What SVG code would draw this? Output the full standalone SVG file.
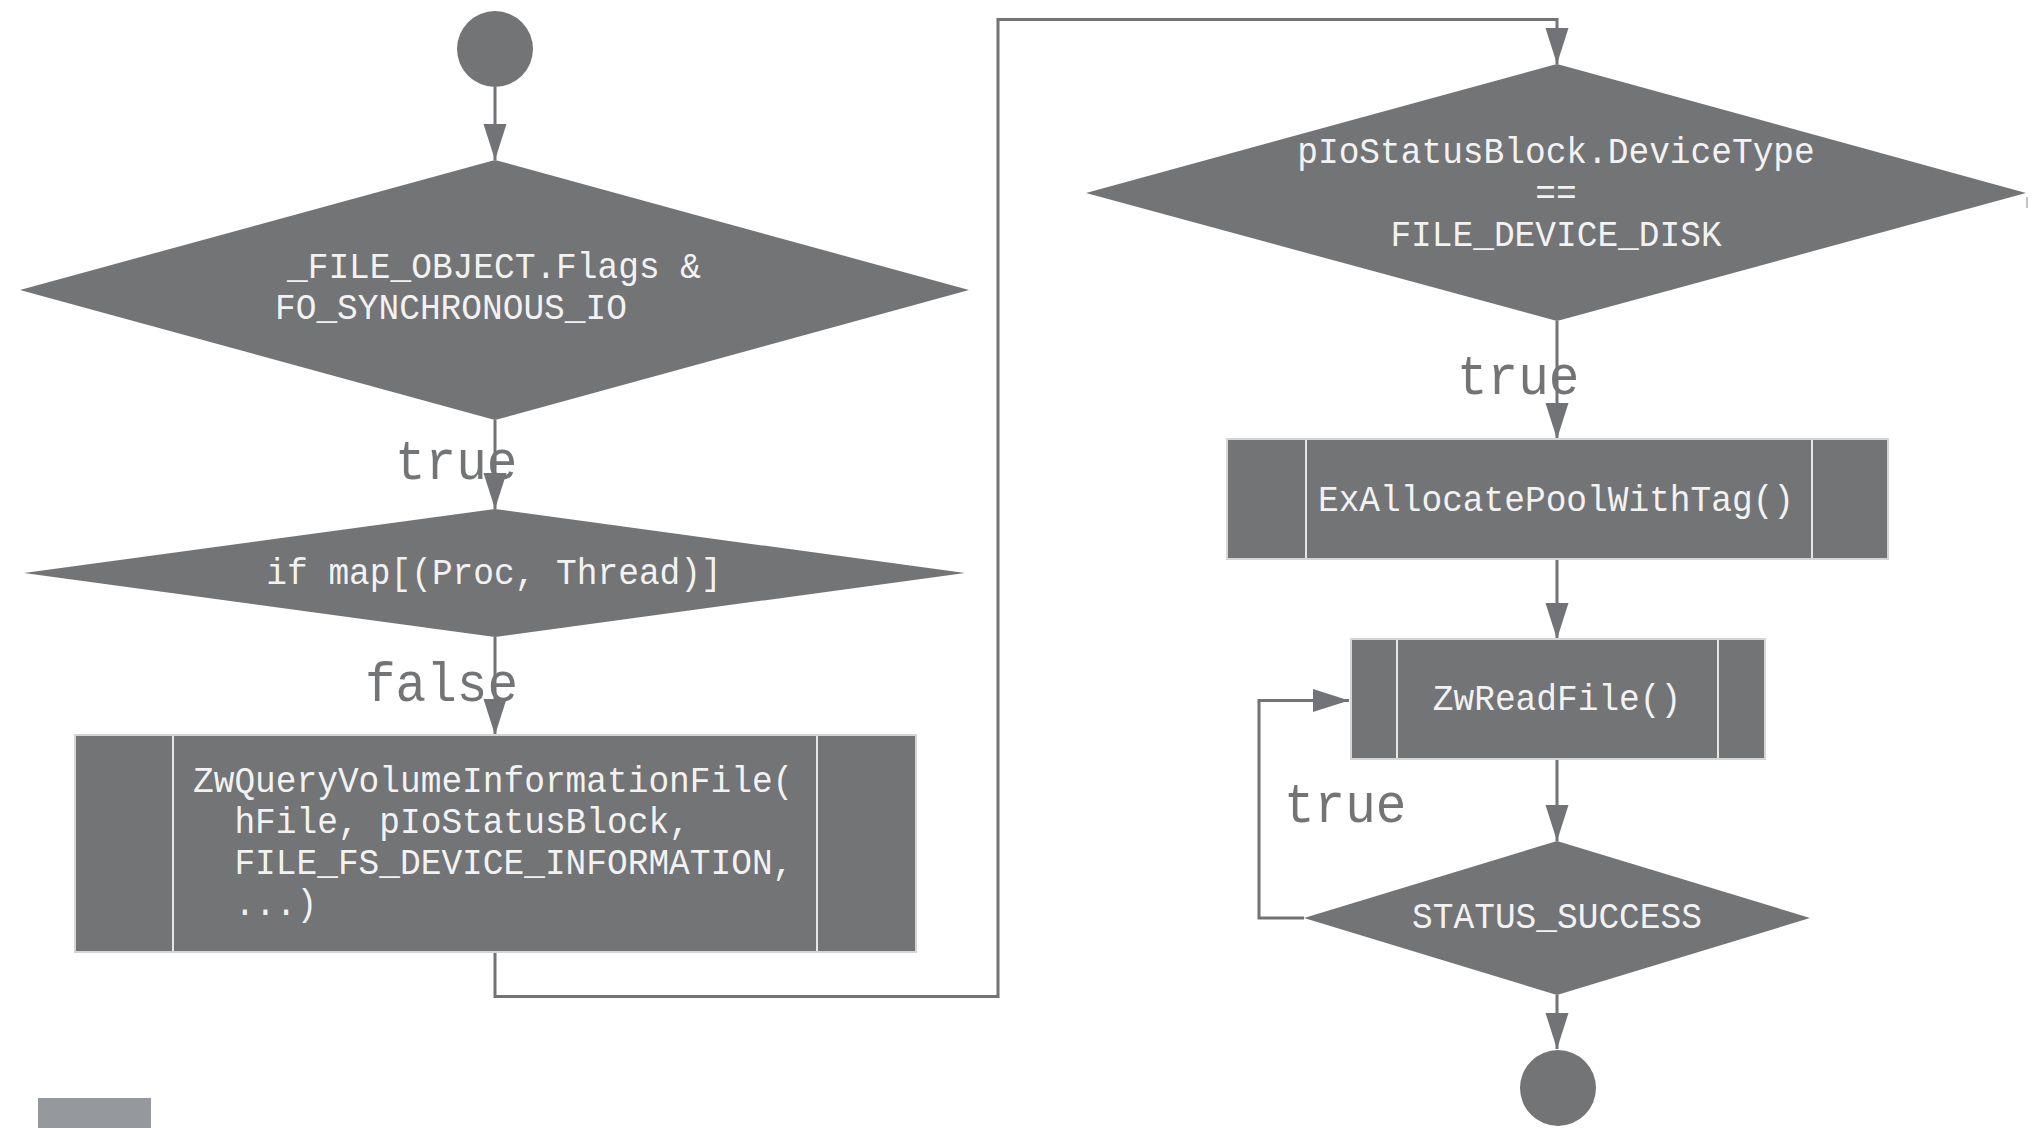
<svg xmlns="http://www.w3.org/2000/svg" width="2037" height="1128" viewBox="0 0 2037 1128">
<defs>
<style>
.node{fill:#737476;}
.box{fill:#737476;stroke:#d4d5d6;stroke-width:2;}
.div{stroke:#e6e6e6;stroke-width:2;}
.nt{font-family:"Liberation Mono","DejaVu Sans Mono",monospace;font-size:37.5px;fill:#f2f2f2;}
.c{text-anchor:middle;}
.lbl{font-family:"Liberation Mono","DejaVu Sans Mono",monospace;font-size:56px;fill:#737476;}
.conn{fill:none;stroke:#727376;stroke-width:3;}
</style>
<marker id="ah" markerUnits="userSpaceOnUse" markerWidth="38" markerHeight="24" refX="36" refY="11.5" orient="auto">
<path d="M0,0 L36,11.5 L0,23 z" fill="#727376"/>
</marker>
</defs>
<rect width="2037" height="1128" fill="#ffffff"/>

<g id="connectors">
<line class="conn" x1="495" y1="87" x2="495" y2="160" marker-end="url(#ah)"/>
<line class="conn" x1="495" y1="420" x2="495" y2="509" marker-end="url(#ah)"/>
<line class="conn" x1="495" y1="637" x2="495" y2="735" marker-end="url(#ah)"/>
<polyline class="conn" points="495,952 495,996.5 998,996.5 998,19.5 1557,19.5 1557,64" marker-end="url(#ah)"/>
<line class="conn" x1="1557" y1="321" x2="1557" y2="439" marker-end="url(#ah)"/>
<line class="conn" x1="1557" y1="559" x2="1557" y2="639" marker-end="url(#ah)"/>
<line class="conn" x1="1557" y1="759" x2="1557" y2="841" marker-end="url(#ah)"/>
<polyline class="conn" points="1304,918 1259,918 1259,700.5 1349,700.5" marker-end="url(#ah)"/>
<line class="conn" x1="1557" y1="995" x2="1557" y2="1049" marker-end="url(#ah)"/>
<text class="lbl" x="395" y="479" textLength="122.4" lengthAdjust="spacingAndGlyphs">true</text>
<text class="lbl" x="365" y="701" textLength="153" lengthAdjust="spacingAndGlyphs">false</text>
<text class="lbl" x="1457" y="394" textLength="122.4" lengthAdjust="spacingAndGlyphs">true</text>
<text class="lbl" x="1284" y="822" textLength="122.4" lengthAdjust="spacingAndGlyphs">true</text>
</g>

<g id="start">
<circle class="node" cx="495" cy="49" r="38"/>
</g>

<g id="cond-flags">
<polygon class="node" points="495,160 969,290 495,420 20,290"/>
<text class="nt" x="287" y="278" textLength="414" lengthAdjust="spacingAndGlyphs">_FILE_OBJECT.Flags &amp;</text>
<text class="nt" x="275" y="319" textLength="351.9" lengthAdjust="spacingAndGlyphs">FO_SYNCHRONOUS_IO</text>
</g>

<g id="cond-map">
<polygon class="node" points="495,509 965,573 495,637 24,573"/>
<text class="nt c" x="494" y="584" textLength="455.4" lengthAdjust="spacingAndGlyphs">if map[(Proc, Thread)]</text>
</g>

<g id="query-volume">
<rect class="box" x="75" y="735" width="841" height="217"/>
<line class="div" x1="173" y1="736" x2="173" y2="951"/>
<line class="div" x1="817" y1="736" x2="817" y2="951"/>
<text class="nt" x="193" y="792" textLength="600.3" lengthAdjust="spacingAndGlyphs">ZwQueryVolumeInformationFile(</text>
<text class="nt" x="193" y="833" xml:space="preserve" textLength="496.8" lengthAdjust="spacingAndGlyphs">  hFile, pIoStatusBlock,</text>
<text class="nt" x="193" y="874" xml:space="preserve" textLength="600.3" lengthAdjust="spacingAndGlyphs">  FILE_FS_DEVICE_INFORMATION,</text>
<text class="nt" x="193" y="915" xml:space="preserve" textLength="124.2" lengthAdjust="spacingAndGlyphs">  ...)</text>
</g>

<g id="cond-device">
<polygon class="node" points="1557,64 2026,193 1557,321 1086,193"/>
<line x1="2027" y1="197" x2="2027" y2="208" stroke="#b0b0b0" stroke-width="1.5"/>
<text class="nt c" x="1556" y="163" textLength="517.5" lengthAdjust="spacingAndGlyphs">pIoStatusBlock.DeviceType</text>
<text class="nt c" x="1556" y="204" textLength="41.4" lengthAdjust="spacingAndGlyphs">==</text>
<text class="nt c" x="1556" y="246" textLength="331.2" lengthAdjust="spacingAndGlyphs">FILE_DEVICE_DISK</text>
</g>

<g id="alloc-pool">
<rect class="box" x="1227" y="439" width="661" height="120"/>
<line class="div" x1="1306" y1="440" x2="1306" y2="558"/>
<line class="div" x1="1812" y1="440" x2="1812" y2="558"/>
<text class="nt c" x="1556" y="511" textLength="476.1" lengthAdjust="spacingAndGlyphs">ExAllocatePoolWithTag()</text>
</g>

<g id="read-file">
<rect class="box" x="1351" y="639" width="414" height="120"/>
<line class="div" x1="1397" y1="640" x2="1397" y2="758"/>
<line class="div" x1="1718" y1="640" x2="1718" y2="758"/>
<text class="nt c" x="1557" y="710" textLength="248.4" lengthAdjust="spacingAndGlyphs">ZwReadFile()</text>
</g>

<g id="cond-status">
<polygon class="node" points="1557,841 1810,918 1557,995 1304,918"/>
<text class="nt c" x="1557" y="928" textLength="289.8" lengthAdjust="spacingAndGlyphs">STATUS_SUCCESS</text>
</g>

<g id="end">
<circle class="node" cx="1558" cy="1088" r="38"/>
</g>

<g id="legend">
<rect x="38" y="1098" width="113" height="30" fill="#95989c"/>
</g>
</svg>
